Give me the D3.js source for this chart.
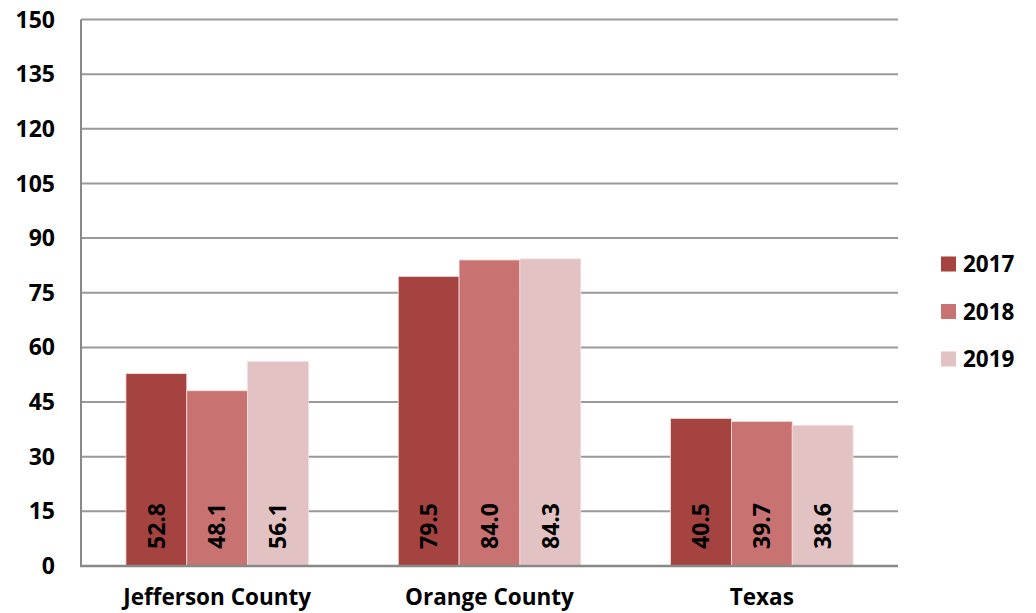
<!DOCTYPE html>
<html>
<head>
<meta charset="utf-8">
<script src="https://cdn.jsdelivr.net/npm/d3@7"></script>
<style>
  body { margin: 0; background: #fff; }
  text { font-family: "Open Sans", Lato, sans-serif; font-weight: bold; fill: #000; }
</style>
</head>
<body>
<svg id="chart"></svg>
<script>
const width = 1036, height = 613

const categories = ["Jefferson County", "Orange County", "Texas"]
const years = ["2017", "2018", "2019"]
const values2017 = [52.8, 79.5, 40.5]
const values2018 = [48.1, 84.0, 39.7]
const values2019 = [56.1, 84.3, 38.6]
const yTicks = [0, 15, 30, 45, 60, 75, 90, 105, 120, 135, 150]
const colors = ["#A54340", "#C87371", "#E3C2C4"]

const series = [values2017, values2018, values2019]

const margin = {left: 81, right: 138, top: 19.5, bottom: 47}

const svg = d3.select("#chart")
    .attr("width", width)
    .attr("height", height)

let x = d3.scaleBand()
    .domain(categories)
    .range([margin.left, width - margin.right])
    .paddingInner(0.33)
    .paddingOuter(0.165)

let xInner = d3.scaleBand()
    .domain(years)
    .range([0, x.bandwidth()])

let y = d3.scaleLinear()
    .domain([0, 150])
    .range([height - margin.bottom, margin.top])

// gridlines
svg.append("g")
    .selectAll("line")
    .data(yTicks.filter(d => d > 0))
    .enter()
    .append("line")
    .attr("x1", margin.left)
    .attr("x2", width - margin.right)
    .attr("y1", d => y(d))
    .attr("y2", d => y(d))
    .attr("stroke", "#999")
    .attr("stroke-width", 2)

// y tick labels
svg.append("g")
    .selectAll("text")
    .data(yTicks)
    .enter()
    .append("text")
    .attr("x", 55)
    .attr("y", d => y(d))
    .attr("dy", "0.35em")
    .attr("text-anchor", "end")
    .attr("font-size", "23px")
    .text(d => d)

// bars
let groups = svg.append("g")
    .selectAll("g")
    .data(categories)
    .enter()
    .append("g")
    .attr("transform", d => `translate(${x(d)},0)`)

groups.selectAll("rect")
    .data((c, i) => years.map((yr, j) => ({year: yr, value: series[j][i], j: j})))
    .enter()
    .append("rect")
    .attr("x", d => xInner(d.year))
    .attr("width", xInner.bandwidth())
    .attr("y", d => y(d.value))
    .attr("height", d => y(0) - y(d.value))
    .attr("fill", d => colors[d.j])
    .attr("stroke", "#f3dede")
    .attr("stroke-width", 0.8)

groups.selectAll("text")
    .data((c, i) => years.map((yr, j) => ({year: yr, value: series[j][i]})))
    .enter()
    .append("text")
    .attr("transform", d => `translate(${xInner(d.year) + xInner.bandwidth() / 2},${y(0) - 17}) rotate(-90)`)
    .attr("dy", "0.36em")
    .attr("font-size", "23px")
    .text(d => d.value.toFixed(1))

// axes lines
svg.append("line")
    .attr("x1", margin.left)
    .attr("x2", margin.left)
    .attr("y1", y(150))
    .attr("y2", y(0))
    .attr("stroke", "#888")
    .attr("stroke-width", 2)

svg.append("line")
    .attr("x1", margin.left - 1)
    .attr("x2", width - margin.right)
    .attr("y1", y(0))
    .attr("y2", y(0))
    .attr("stroke", "#888")
    .attr("stroke-width", 2.5)

// category labels
svg.append("g")
    .selectAll("text")
    .data(categories)
    .enter()
    .append("text")
    .attr("x", d => x(d) + x.bandwidth() / 2)
    .attr("y", 597)
    .attr("dy", "0.35em")
    .attr("text-anchor", "middle")
    .attr("font-size", "22.5px")
    .text(d => d)

// legend
let legend = svg.append("g")
    .selectAll("g")
    .data(years)
    .enter()
    .append("g")
    .attr("transform", (d, i) => `translate(941,${264 + i * 47.5})`)

legend.append("rect")
    .attr("x", 0)
    .attr("y", -7.5)
    .attr("width", 15)
    .attr("height", 15)
    .attr("fill", (d, i) => colors[i])

legend.append("text")
    .attr("x", 22)
    .attr("y", 0)
    .attr("dy", "0.36em")
    .attr("font-size", "22.5px")
    .text(d => d)
</script>
</body>
</html>
